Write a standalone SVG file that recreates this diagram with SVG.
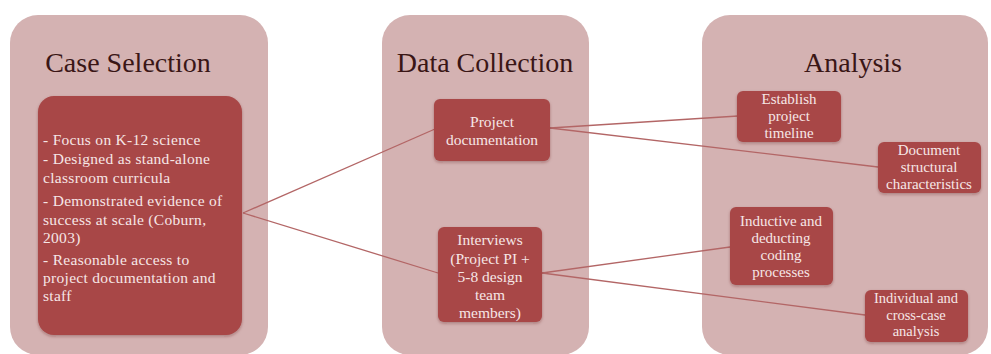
<svg xmlns="http://www.w3.org/2000/svg" width="991" height="354" viewBox="0 0 991 354">
<defs>
<style>
.panel{fill:#d4b2b2;}
.box{fill:#a84747;}
.title{font-family:"Liberation Serif",serif;font-size:28px;fill:#3a1616;text-anchor:middle;}
.t{font-family:"Liberation Serif",serif;font-size:15.5px;fill:#f6e6e6;text-anchor:middle;}
.s{font-size:15px;}
.xs{font-size:14.5px;}
.tl{font-family:"Liberation Serif",serif;font-size:15.5px;fill:#f6e6e6;letter-spacing:0.3px;}
.conn{stroke:#b36666;stroke-width:1.3;fill:none;}
</style>
<filter id="sh" x="-10%" y="-10%" width="120%" height="130%">
<feDropShadow dx="0" dy="1.5" stdDeviation="1.5" flood-color="#5a2020" flood-opacity="0.35"/>
</filter>
</defs>
<rect width="991" height="354" fill="#ffffff"/>
<g id="panel-case-selection">
<rect class="panel" x="10" y="15" width="258" height="340" rx="28"/>
<text class="title" x="128" y="72">Case Selection</text>
</g>
<g id="panel-data-collection">
<rect class="panel" x="382" y="15" width="207" height="340" rx="28"/>
<text class="title" x="485" y="72">Data Collection</text>
</g>
<g id="panel-analysis">
<rect class="panel" x="702" y="15" width="286" height="340" rx="28"/>
<text class="title" x="853" y="72">Analysis</text>
</g>
<g id="connectors">
<line class="conn" x1="243" y1="213" x2="435" y2="129"/>
<line class="conn" x1="243" y1="213" x2="438" y2="273"/>
<line class="conn" x1="550" y1="128" x2="738" y2="116"/>
<line class="conn" x1="550" y1="128" x2="878" y2="167"/>
<line class="conn" x1="542" y1="273" x2="730" y2="247"/>
<line class="conn" x1="542" y1="273" x2="865" y2="315"/>
</g>
<g id="case-criteria">
<rect class="box" x="38" y="96" width="204" height="239" rx="16" filter="url(#sh)"/>
<text class="tl" x="43" y="145">- Focus on K-12 science</text>
<text class="tl" x="43" y="164">- Designed as stand-alone</text>
<text class="tl" x="43" y="183">classroom curricula</text>
<text class="tl" x="43" y="206">- Demonstrated evidence of</text>
<text class="tl" x="43" y="225">success at scale (Coburn,</text>
<text class="tl" x="43" y="243">2003)</text>
<text class="tl" x="43" y="265">- Reasonable access to</text>
<text class="tl" x="43" y="283">project documentation and</text>
<text class="tl" x="43" y="301">staff</text>
</g>
<g id="project-documentation">
<rect class="box" x="434" y="99" width="116" height="62" rx="6" filter="url(#sh)"/>
<text class="t" x="492" y="127">Project</text>
<text class="t" x="492" y="145">documentation</text>
</g>
<g id="interviews">
<rect class="box" x="438" y="227" width="104" height="95" rx="6" filter="url(#sh)"/>
<text class="t" x="490" y="245">Interviews</text>
<text class="t" x="490" y="264">(Project PI +</text>
<text class="t" x="490" y="282">5-8 design</text>
<text class="t" x="490" y="300">team</text>
<text class="t" x="490" y="318">members)</text>
</g>
<g id="establish-timeline">
<rect class="box" x="737" y="91" width="104" height="51" rx="6" filter="url(#sh)"/>
<text class="t s" x="789" y="104">Establish</text>
<text class="t s" x="789" y="121">project</text>
<text class="t s" x="789" y="138">timeline</text>
</g>
<g id="document-structural">
<rect class="box" x="878" y="142" width="103" height="51" rx="6" filter="url(#sh)"/>
<text class="t s" x="929" y="155">Document</text>
<text class="t s" x="929" y="172">structural</text>
<text class="t s" x="929" y="189">characteristics</text>
</g>
<g id="inductive-coding">
<rect class="box" x="730" y="207" width="103" height="78" rx="6" filter="url(#sh)"/>
<text class="t s" x="781" y="226">Inductive and</text>
<text class="t s" x="781" y="243">deducting</text>
<text class="t s" x="781" y="260">coding</text>
<text class="t s" x="781" y="277">processes</text>
</g>
<g id="individual-analysis">
<rect class="box" x="865" y="290" width="103" height="52" rx="6" filter="url(#sh)"/>
<text class="t xs" x="916" y="303">Individual and</text>
<text class="t xs" x="916" y="319.5">cross-case</text>
<text class="t xs" x="916" y="336">analysis</text>
</g>
</svg>
